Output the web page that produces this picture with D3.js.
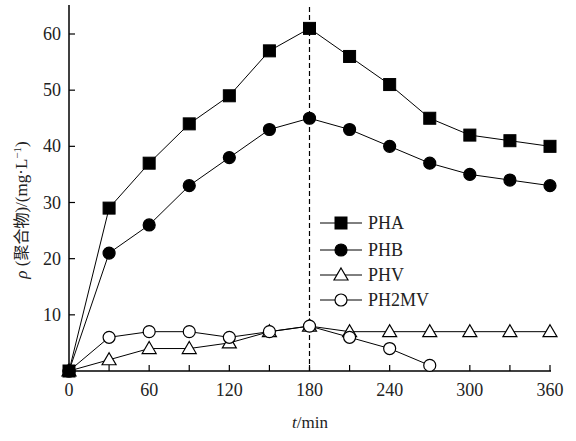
<!DOCTYPE html>
<html>
<head>
<meta charset="utf-8">
<script src="https://cdn.jsdelivr.net/npm/d3@7"></script>
<style>
  body { margin: 0; background: #fff; }
  text { font-family: "Liberation Serif", "DejaVu Serif", serif; fill: #222; }
</style>
</head>
<body>
<div id="chart"></div>
<script>
const times = [0, 30, 60, 90, 120, 150, 180, 210, 240, 270, 300, 330, 360];
const pha = [0, 29, 37, 44, 49, 57, 61, 56, 51, 45, 42, 41, 40];
const phb = [0, 21, 26, 33, 38, 43, 45, 43, 40, 37, 35, 34, 33];
const phv = [0, 2, 4, 4, 5, 7, 8, 7, 7, 7, 7, 7, 7];
const ph2mv = [0, 6, 7, 7, 6, 7, 8, 6, 4, 1];
const xTicks = [0, 60, 120, 180, 240, 300, 360];
const xMinor = [30, 90, 150, 210, 270, 330];
const yTicks = [10, 20, 30, 40, 50, 60];
const peakTime = 180;

const width = 576, height = 441;
const margin = {left: 69, right: 26, top: 5, bottom: 70};

let svg = d3.select("#chart").append("svg")
    .attr("width", width)
    .attr("height", height);

let x = d3.scaleLinear().domain([0, 360]).range([margin.left, 550]);
let y = d3.scaleLinear().domain([0, 60]).range([371, 34]);

// axes
svg.append("line")
    .attr("x1", x(0)).attr("x2", x(0))
    .attr("y1", margin.top).attr("y2", y(0))
    .attr("stroke", "#000").attr("stroke-width", 1.5);
svg.append("line")
    .attr("x1", x(0)).attr("x2", x(360) + 1)
    .attr("y1", y(0)).attr("y2", y(0))
    .attr("stroke", "#000").attr("stroke-width", 1.5);

svg.selectAll(".ytick").data(yTicks).enter().append("line")
    .attr("x1", x(0)).attr("x2", x(0) + 6)
    .attr("y1", d => y(d)).attr("y2", d => y(d))
    .attr("stroke", "#000").attr("stroke-width", 1.2);
svg.selectAll(".ylab").data(yTicks).enter().append("text")
    .attr("x", x(0) - 8).attr("y", d => y(d) + 6)
    .style("text-anchor", "end").style("font-size", "18px")
    .text(d => d);

svg.selectAll(".xtick").data(xTicks.concat(xMinor).filter(d => d > 0)).enter().append("line")
    .attr("x1", d => x(d)).attr("x2", d => x(d))
    .attr("y1", y(0)).attr("y2", y(0) - 6)
    .attr("stroke", "#000").attr("stroke-width", 1.2);
svg.selectAll(".xlab").data(xTicks).enter().append("text")
    .attr("x", d => x(d)).attr("y", y(0) + 25)
    .style("text-anchor", "middle").style("font-size", "18px")
    .text(d => d);

// dashed line at peak
svg.append("line")
    .attr("x1", x(peakTime)).attr("x2", x(peakTime))
    .attr("y1", margin.top + 2).attr("y2", y(0))
    .attr("stroke", "#000").attr("stroke-width", 1.2)
    .attr("stroke-dasharray", "5,3");

// axis titles
let xt = svg.append("text")
    .attr("x", 310).attr("y", 428)
    .style("text-anchor", "middle").style("font-size", "17px");
xt.append("tspan").style("font-style", "italic").text("t");
xt.append("tspan").text("/min");

let yt = svg.append("text")
    .attr("transform", `translate(27, 210) rotate(-90)`)
    .style("text-anchor", "middle").style("font-size", "17px");
yt.append("tspan").style("font-style", "italic").text("ρ");
yt.append("tspan").text(" (");
yt.append("tspan").style("font-family", "'Noto Sans CJK SC'").style("font-size", "16px").text("聚合物");
yt.append("tspan").text(")/(mg·L");
yt.append("tspan").attr("dy", -6).style("font-size", "11px").text("−1");
yt.append("tspan").attr("dy", 6).text(")");

const series = [
    {name: "PHA", values: pha, shape: "square", fill: "#000"},
    {name: "PHB", values: phb, shape: "circle", fill: "#000"},
    {name: "PHV", values: phv, shape: "triangle", fill: "#fff"},
    {name: "PH2MV", values: ph2mv, shape: "circle", fill: "#fff"}
];

function drawMarker(g, shape, fill, cx, cy) {
    if (shape === "square") {
        g.append("rect").attr("x", cx - 6).attr("y", cy - 6)
            .attr("width", 12).attr("height", 12)
            .attr("fill", fill).attr("stroke", "#000");
    } else if (shape === "circle") {
        g.append("circle").attr("cx", cx).attr("cy", cy).attr("r", 6)
            .attr("fill", fill).attr("stroke", "#000").attr("stroke-width", 1.2);
    } else {
        g.append("path")
            .attr("d", `M${cx},${cy - 7}L${cx + 7},${cy + 5}L${cx - 7},${cy + 5}Z`)
            .attr("fill", fill).attr("stroke", "#000").attr("stroke-width", 1.2);
    }
}

let line = d3.line().x(d => x(d[0])).y(d => y(d[1]));

// draw open series first so filled ones overlay
[series[2], series[3], series[1], series[0]].forEach(function(s) {
    let pts = s.values.map((v, i) => [times[i], v]);
    svg.append("path").datum(pts)
        .attr("d", line)
        .attr("fill", "none").attr("stroke", "#000").attr("stroke-width", 1);
    let g = svg.append("g");
    pts.forEach(p => drawMarker(g, s.shape, s.fill, x(p[0]), y(p[1])));
});

// legend
const legendY = [223, 250, 275, 300];
series.forEach(function(s, i) {
    let g = svg.append("g");
    g.append("line").attr("x1", 320).attr("x2", 362)
        .attr("y1", legendY[i]).attr("y2", legendY[i])
        .attr("stroke", "#000").attr("stroke-width", 1);
    drawMarker(g, s.shape, s.fill, 341, legendY[i]);
    g.append("text").attr("x", 368).attr("y", legendY[i] + 6)
        .style("font-size", "18px").text(s.name);
});
</script>
</body>
</html>
